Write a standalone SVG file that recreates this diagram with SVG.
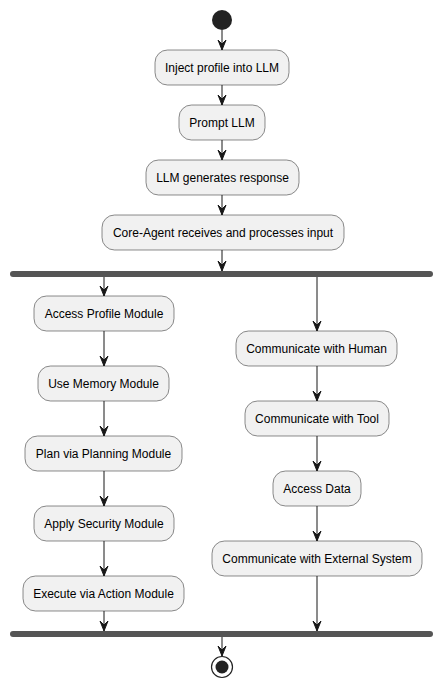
<svg xmlns="http://www.w3.org/2000/svg" width="443" height="689" viewBox="0 0 443 689">
<style>
.n rect{fill:#F1F1F1;stroke:#181818;stroke-width:0.5}
.n text{font-family:"Liberation Sans",Arial,sans-serif;font-size:12px;fill:#000;text-anchor:middle}
.c line{stroke:#181818;stroke-width:1}
.bar{fill:#555555}
</style>
<defs>
<marker id="ah" viewBox="0 0 11 10" refX="10" refY="5" markerWidth="11" markerHeight="10" markerUnits="userSpaceOnUse" orient="auto">
<polygon points="0,1 10,5 0,9 4,5" fill="#181818" stroke="#181818" stroke-width="1"/>
</marker>
</defs>
<g id="start"><circle cx="222" cy="20" r="10" fill="#222222"/></g>
<g id="inject" class="n"><rect x="155" y="50" width="134" height="35" rx="12.5"/><text x="222" y="72">Inject profile into LLM</text></g>
<g id="prompt" class="n"><rect x="179" y="105" width="86" height="35" rx="12.5"/><text x="222" y="127">Prompt LLM</text></g>
<g id="generate" class="n"><rect x="146" y="160" width="153" height="35" rx="12.5"/><text x="222.5" y="182">LLM generates response</text></g>
<g id="core" class="n"><rect x="102" y="215" width="242" height="35" rx="12.5"/><text x="223" y="237">Core-Agent receives and processes input</text></g>
<g id="fork"><rect class="bar" x="10" y="271" width="423" height="6" rx="3"/></g>
<g id="profile" class="n"><rect x="34" y="296" width="140" height="35" rx="12.5"/><text x="104" y="318">Access Profile Module</text></g>
<g id="memory" class="n"><rect x="38" y="366" width="131" height="35" rx="12.5"/><text x="103.5" y="388">Use Memory Module</text></g>
<g id="plan" class="n"><rect x="25" y="436" width="157" height="35" rx="12.5"/><text x="103.5" y="458">Plan via Planning Module</text></g>
<g id="security" class="n"><rect x="34" y="506" width="140" height="35" rx="12.5"/><text x="104" y="528">Apply Security Module</text></g>
<g id="execute" class="n"><rect x="23" y="576" width="161" height="35" rx="12.5"/><text x="103.5" y="598">Execute via Action Module</text></g>
<g id="human" class="n"><rect x="236" y="331" width="161" height="35" rx="12.5"/><text x="316.5" y="353">Communicate with Human</text></g>
<g id="tool" class="n"><rect x="245" y="401" width="144" height="35" rx="12.5"/><text x="317" y="423">Communicate with Tool</text></g>
<g id="data" class="n"><rect x="273" y="471" width="88" height="35" rx="12.5"/><text x="317" y="493">Access Data</text></g>
<g id="external" class="n"><rect x="212" y="541" width="210" height="35" rx="12.5"/><text x="317" y="563">Communicate with External System</text></g>
<g id="join"><rect class="bar" x="10" y="631" width="423" height="6" rx="3"/></g>
<g id="end"><circle cx="222" cy="667" r="10.5" fill="none" stroke="#222222" stroke-width="1.2"/><circle cx="222" cy="667" r="6.5" fill="#222222"/></g>
<g id="connectors" class="c">
<line x1="222" y1="30" x2="222" y2="50" marker-end="url(#ah)"/>
<line x1="222" y1="85" x2="222" y2="105" marker-end="url(#ah)"/>
<line x1="222" y1="140" x2="222" y2="160" marker-end="url(#ah)"/>
<line x1="222" y1="195" x2="222" y2="215" marker-end="url(#ah)"/>
<line x1="222" y1="250" x2="222" y2="271" marker-end="url(#ah)"/>
<line x1="104" y1="277" x2="104" y2="296" marker-end="url(#ah)"/>
<line x1="104" y1="331" x2="104" y2="366" marker-end="url(#ah)"/>
<line x1="104" y1="401" x2="104" y2="436" marker-end="url(#ah)"/>
<line x1="104" y1="471" x2="104" y2="506" marker-end="url(#ah)"/>
<line x1="104" y1="541" x2="104" y2="576" marker-end="url(#ah)"/>
<line x1="104" y1="611" x2="104" y2="631" marker-end="url(#ah)"/>
<line x1="317" y1="277" x2="317" y2="331" marker-end="url(#ah)"/>
<line x1="317" y1="366" x2="317" y2="401" marker-end="url(#ah)"/>
<line x1="317" y1="436" x2="317" y2="471" marker-end="url(#ah)"/>
<line x1="317" y1="506" x2="317" y2="541" marker-end="url(#ah)"/>
<line x1="317" y1="576" x2="317" y2="631" marker-end="url(#ah)"/>
<line x1="222" y1="637" x2="222" y2="656" marker-end="url(#ah)"/>
</g>
</svg>
